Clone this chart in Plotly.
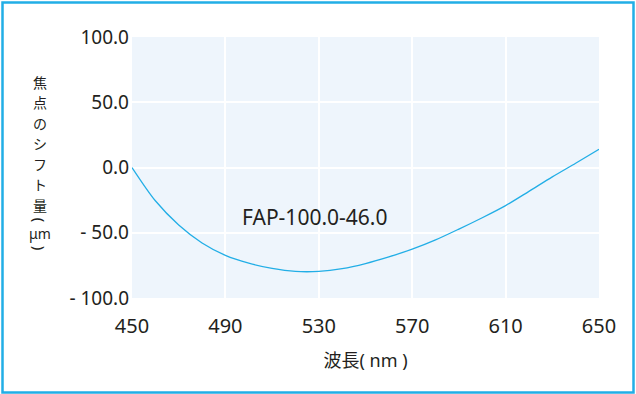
import plotly.graph_objects as go

# Focal shift vs. wavelength
wavelength_nm = [450, 460, 470, 480, 490, 500, 510, 520, 530, 540, 550,
                 560, 570, 580, 590, 600, 610, 620, 630, 640, 650]
focal_shift_um = [0.0, -25.5, -44.0, -57.8, -67.3, -73.3, -77.3, -79.6, -79.6, -77.5, -73.6,
                  -68.5, -62.6, -55.5, -47.2, -38.5, -29.2, -18.3, -7.2, 3.3, 14.0]

x_ticks = [450, 490, 530, 570, 610, 650]
y_ticks = [-100, -50, 0, 50, 100]
y_tick_text = ["- 100.0", "- 50.0", "0.0", "50.0", "100.0"]

series_label = "FAP-100.0-46.0"
label_pos = (528, -38)

x_title = "波長( nm )"
# vertical y title: (glyph, rotated?) — brackets turn 90° in vertical writing
y_title_glyphs = [("焦", False), ("点", False), ("の", False), ("シ", False), ("フ", False),
                  ("ト", False), ("量", False), ("(", True), ("μm", False), (")", True)]

W, H = 636, 394
L, R, T, B = 132, 37, 37, 96
PW, PH = W - L - R, H - T - B

FONT = "Noto Sans, Noto Sans CJK JP, sans-serif"
TXT = "#231f20"
BLUE = "#22aee6"


def px_x(px):
    return (px - L) / PW


def px_y(py):
    return (H - B - py) / PH


fig = go.Figure()
fig.add_trace(go.Scatter(
    x=wavelength_nm, y=focal_shift_um, mode="lines",
    line=dict(color=BLUE, width=1.3, shape="spline", smoothing=0.8),
    hoverinfo="skip", showlegend=False,
))

fig.add_annotation(
    x=label_pos[0], y=label_pos[1], xref="x", yref="y", text=series_label,
    showarrow=False, font=dict(family=FONT, size=21, color=TXT),
)

# y-axis title stacked one glyph per row
CJK_SIZE, CJK_PITCH = 14, 20.5
y_pos = 82
prev_half = None
for ch, rot in y_title_glyphs:
    if rot:
        half = 3.5
    elif ch == "μm":
        half = 9.5
    else:
        half = 10.25
    if prev_half is not None:
        y_pos += CJK_PITCH if (half == 10.25 and prev_half == 10.25) else prev_half + half + 1
    fig.add_annotation(
        x=px_x(40), y=px_y(y_pos), xref="paper", yref="paper", text=ch,
        showarrow=False, xanchor="center", yanchor="middle",
        textangle=90 if rot else 0,
        font=dict(family=FONT, size=15 if rot else CJK_SIZE, color=TXT),
    )
    prev_half = half

# outer frame
fig.add_shape(
    type="rect", xref="paper", yref="paper",
    x0=px_x(2.5), x1=px_x(633.5), y0=px_y(392.5), y1=px_y(2.5),
    line=dict(color=BLUE, width=2.5), fillcolor="rgba(0,0,0,0)", layer="above",
)

fig.update_layout(
    width=W, height=H,
    margin=dict(l=L, r=R, t=T, b=B),
    paper_bgcolor="white", plot_bgcolor="#eef5fc",
    font=dict(family=FONT, color=TXT),
    xaxis=dict(
        range=[450, 650], tickvals=x_ticks, ticktext=[str(v) for v in x_ticks],
        showgrid=True, gridcolor="white", gridwidth=2, zeroline=False, showline=False,
        tickfont=dict(size=20, color=TXT), ticks="", ticklabelstandoff=14,
        title=dict(text=x_title, font=dict(size=18, color=TXT), standoff=16),
    ),
    yaxis=dict(
        range=[-100, 100], tickvals=y_ticks, ticktext=y_tick_text,
        showgrid=True, gridcolor="white", gridwidth=2, zeroline=False, showline=False,
        tickfont=dict(size=19, color=TXT), ticks="", ticklabelstandoff=2,
    ),
)

fig.write_html("out.html")
